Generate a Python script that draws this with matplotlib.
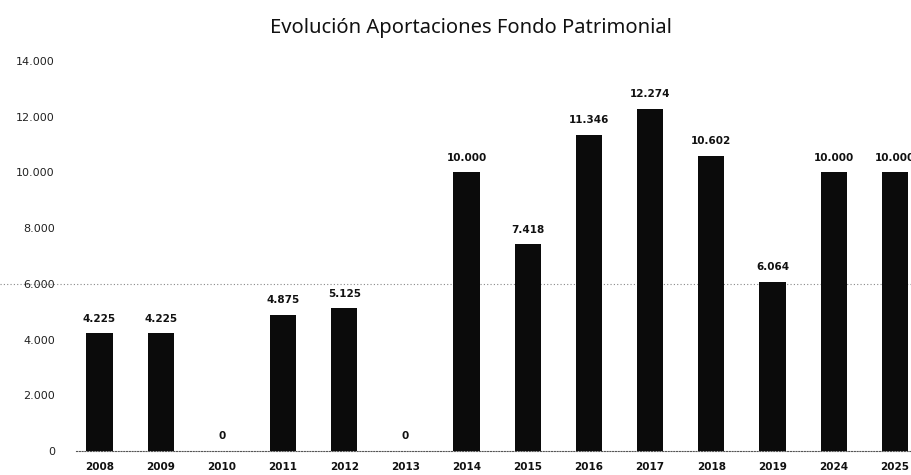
import matplotlib.pyplot as plt
from matplotlib.ticker import FuncFormatter

years = ["2008", "2009", "2010", "2011", "2012", "2013", "2014",
         "2015", "2016", "2017", "2018", "2019", "2024", "2025"]
aportaciones = [4225, 4225, 0, 4875, 5125, 0, 10000,
                7418, 11346, 12274, 10602, 6064, 10000, 10000]
yTicks = [0, 2000, 4000, 6000, 8000, 10000, 12000, 14000]


def fmtMiles(v):
    return f"{int(v):,}".replace(",", ".")


fig = plt.figure(figsize=(9.12, 4.75), dpi=100)
ax = fig.add_axes([0.083, 0.0505, 0.917, 0.821])

xs = range(len(years))
ax.bar(xs, aportaciones, width=0.43, color="#0b0b0b", zorder=3)

for x, v in zip(xs, aportaciones):
    ax.annotate(fmtMiles(v), (x, v), xytext=(0, 7), textcoords="offset points",
                ha="center", va="bottom", fontsize=7.5, fontweight="bold",
                family="DejaVu Sans", color="#111111")

ax.axhline(6000, xmin=-0.09, xmax=1, color="#888888", linestyle=(0, (1, 2)),
           linewidth=0.8, clip_on=False, zorder=1)

ax.set_xlim(-0.39, 13.28)
ax.set_ylim(0, 14000)
ax.set_yticks(yTicks)
ax.yaxis.set_major_formatter(FuncFormatter(lambda v, p: fmtMiles(v)))
ax.set_xticks(list(xs), labels=years)

for side in ["top", "right", "left"]:
    ax.spines[side].set_visible(False)
ax.spines["bottom"].set_linestyle((0, (1, 1.5)))
ax.spines["bottom"].set_color("#555555")
ax.spines["bottom"].set_linewidth(0.8)

ax.tick_params(axis="y", length=0, pad=15, labelsize=8, labelcolor="#222222")
ax.tick_params(axis="x", length=0, pad=8, labelsize=7.5, labelcolor="#111111")
for lab in ax.get_xticklabels():
    lab.set_fontweight("bold")

fig.text(0.516, 0.942, "Evolución Aportaciones Fondo Patrimonial", ha="center",
         va="center", fontsize=14.5, family="Noto Sans", color="#111111")

plt.savefig("out.png", dpi=100)
